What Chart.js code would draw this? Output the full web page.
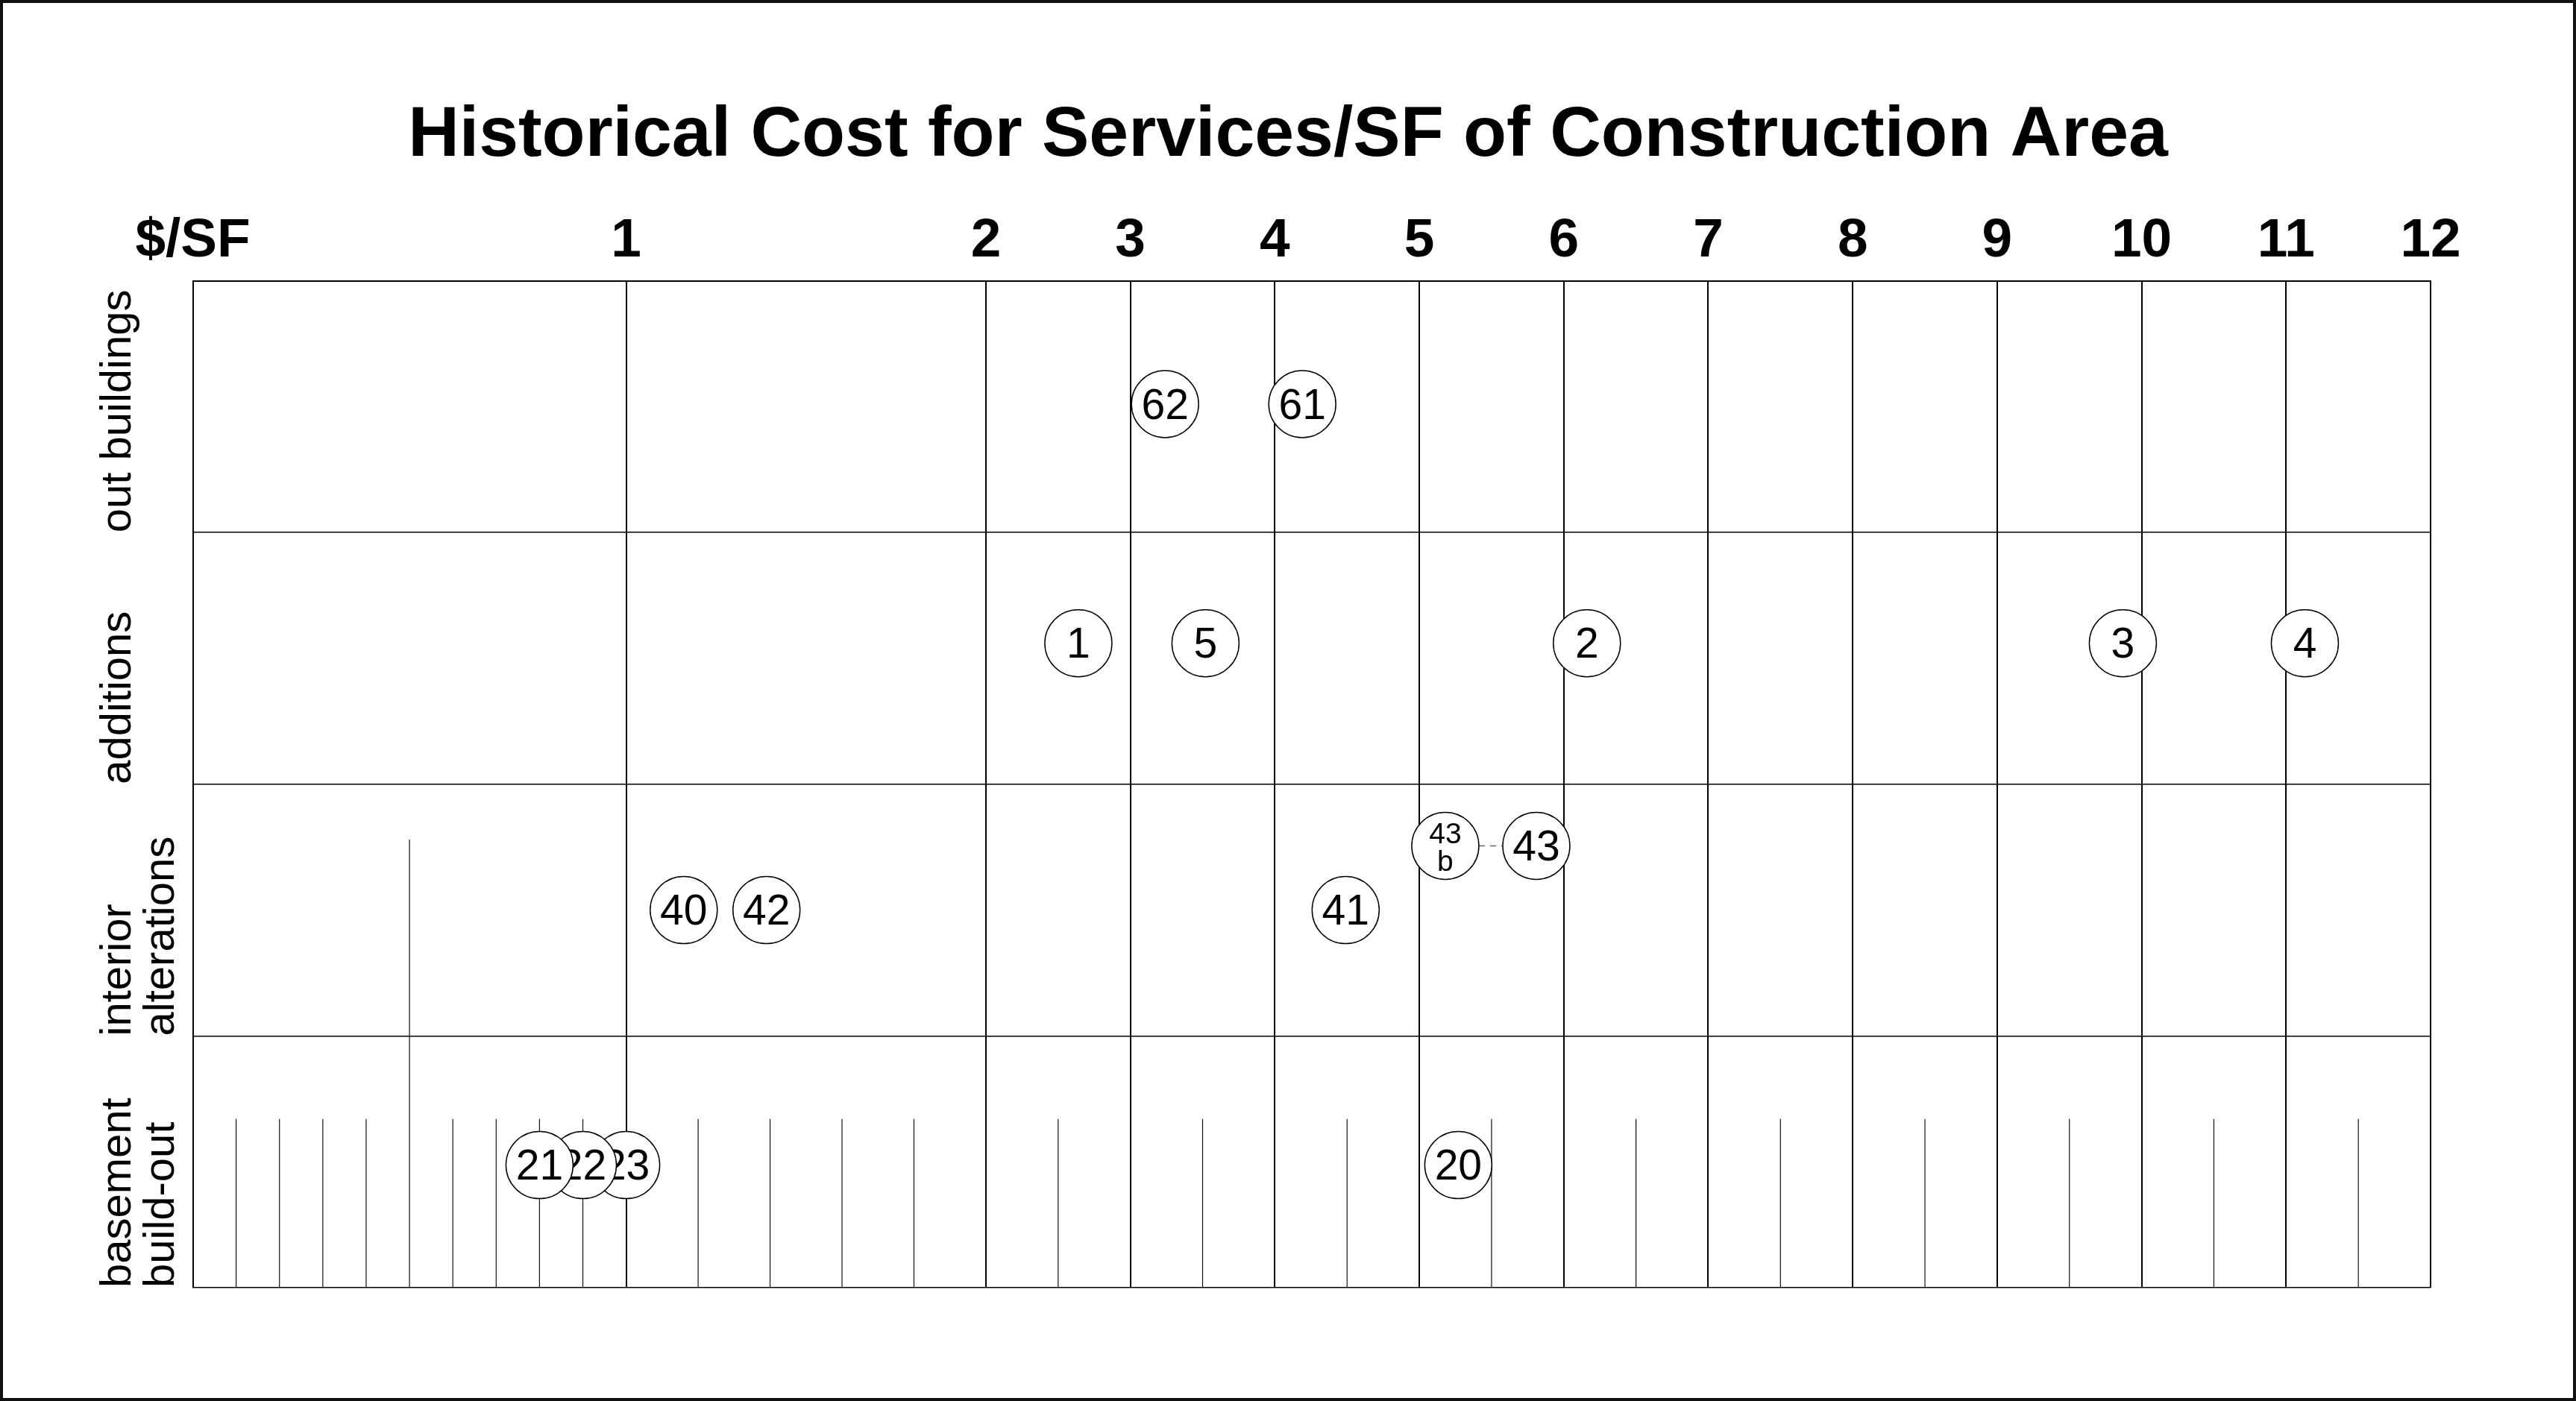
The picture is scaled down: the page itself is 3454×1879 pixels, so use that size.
<!DOCTYPE html>
<html>
<head>
<meta charset="utf-8">
<script src="https://cdn.jsdelivr.net/npm/chart.js@4.4.1/dist/chart.umd.min.js"></script>
<style>
html,body{margin:0;padding:0;background:#fff;}
#wrap{position:relative;width:3454px;height:1879px;}
#frame{position:absolute;left:0;top:0;width:3454px;height:1879px;box-sizing:border-box;border:4px solid #111;pointer-events:none;}
</style>
</head>
<body>
<div id="wrap"><canvas id="c"></canvas><div id="frame"></div></div>
<script>
// ---------- data ----------
const titleText = 'Historical Cost for Services/SF of Construction Area';
// row categories, bottom to top (rotated labels; each row label reads upward from the row's lower edge)
const categories = [['basement', 'build-out'], ['interior', 'alterations'], ['additions'], ['out buildings']];
const rowBoundaries = [0, 1, 2, 3, 4];

const xTickValues = [0, 1, 2, 3, 4, 5, 6, 7, 8, 9, 10, 11, 12];
const xTickLabels = ['$/SF', '1', '2', '3', '4', '5', '6', '7', '8', '9', '10', '11', '12'];
const minorTickValues = [0.1, 0.2, 0.3, 0.4, 0.6, 0.7, 0.8, 0.9, 1.2, 1.4, 1.6, 1.8,
  2.5, 3.5, 4.5, 5.5, 6.5, 7.5, 8.5, 9.5, 10.5, 11.5];
const minorTickHeight = 0.67;
const midLineValue = 0.5;
const midLineHeight = 1.78;

// projects: number, cost ($/SF), vertical position within the row band
const outBuildingsIds = ['62', '61'];
const outBuildingsCost = [3.24, 4.19];
const outBuildingsPos = [3.51, 3.51];

const additionsIds = ['1', '5', '2', '3', '4'];
const additionsCost = [2.64, 3.52, 6.16, 9.87, 11.13];
const additionsPos = [2.56, 2.56, 2.56, 2.56, 2.56];

const interiorIds = ['40', '42', '41', '43\nb', '43'];
const interiorCost = [1.16, 1.39, 4.49, 5.18, 5.81];
const interiorPos = [1.50, 1.50, 1.50, 1.755, 1.755];

const basementIds = ['21', '22', '23', '20'];
const basementCost = [0.80, 0.90, 1.00, 5.27];
const basementPos = [0.487, 0.487, 0.487, 0.487];

// dashed link between related projects
const linkedIds = ['43\nb', '43'];

// ---------- piecewise cost scale ----------
class CostScale extends Chart.LinearScale {
  toUnits(v) {
    const b = [0, 1, 2, 12];
    const w = [3.0, 2.49, 1.0];
    let u = 0;
    for (let i = 0; i < w.length; i++) {
      const lo = b[i], hi = b[i + 1];
      if (v <= hi || i === w.length - 1) return u + (v - lo) * w[i];
      u += (hi - lo) * w[i];
    }
    return u;
  }
  fromUnits(u) {
    const b = [0, 1, 2, 12];
    const w = [3.0, 2.49, 1.0];
    let acc = 0;
    for (let i = 0; i < w.length; i++) {
      const span = (b[i + 1] - b[i]) * w[i];
      if (u <= acc + span || i === w.length - 1) return b[i] + (u - acc) / w[i];
      acc += span;
    }
    return b[b.length - 1];
  }
  getPixelForValue(value) {
    if (value === null || value === undefined || isNaN(value)) return NaN;
    const s = this.toUnits(this.min), e = this.toUnits(this.max);
    return this.getPixelForDecimal((this.toUnits(value) - s) / (e - s));
  }
  getValueForPixel(pixel) {
    const s = this.toUnits(this.min), e = this.toUnits(this.max);
    return this.fromUnits(s + this.getDecimalForPixel(pixel) * (e - s));
  }
}
CostScale.id = 'cost';
CostScale.defaults = {};
Chart.register(CostScale);

// ---------- datasets ----------
const groups = [
  [outBuildingsIds, outBuildingsCost, outBuildingsPos],
  [additionsIds, additionsCost, additionsPos],
  [interiorIds, interiorCost, interiorPos],
  [basementIds, basementCost, basementPos]
];
const datasets = [];
const lookup = {};
groups.forEach(([ids, cost, pos]) => {
  ids.forEach((id, i) => {
    lookup[id] = {x: cost[i], y: pos[i]};
    datasets.push({
      idLabel: id,
      data: [{x: cost[i], y: pos[i]}],
      pointRadius: 45,
      pointHoverRadius: 45,
      pointBorderWidth: 1.5,
      pointHoverBorderWidth: 1.5,
      pointBackgroundColor: '#ffffff',
      pointBorderColor: '#000000',
      pointHoverBackgroundColor: '#ffffff',
      pointHoverBorderColor: '#000000'
    });
  });
});
// dashed connector
datasets.push({
  data: linkedIds.map(id => lookup[id]),
  showLine: true,
  borderColor: '#666666',
  borderWidth: 1.3,
  borderDash: [8, 7],
  pointRadius: 0,
  pointHoverRadius: 0
});
// minor tick marks in the bottom band and the half-dollar line
const tickData = [];
minorTickValues.forEach(v => {
  tickData.push({x: v, y: 0}, {x: v, y: minorTickHeight}, {x: v, y: null});
});
tickData.push({x: midLineValue, y: 0}, {x: midLineValue, y: midLineHeight}, {x: midLineValue, y: null});
datasets.push({
  data: tickData,
  showLine: true,
  spanGaps: false,
  borderColor: '#111111',
  borderWidth: 1.2,
  pointRadius: 0,
  pointHoverRadius: 0
});

// ---------- label plugin ----------
const idLabelPlugin = {
  id: 'idLabels',
  afterDatasetDraw(chart, args) {
    const ds = chart.data.datasets[args.index];
    if (!ds.idLabel) return;
    const pt = args.meta.data[0];
    const ctx = chart.ctx;
    const lines = ds.idLabel.split('\n');
    const multi = lines.length > 1;
    const size = multi ? 39 : 57;
    const lh = multi ? 37 : 57;
    ctx.save();
    ctx.fillStyle = '#000';
    ctx.font = size + 'px "Liberation Sans", Arial, sans-serif';
    ctx.textAlign = 'center';
    ctx.textBaseline = 'middle';
    lines.forEach((l, i) => {
      ctx.fillText(l, pt.x, pt.y + (i - (lines.length - 1) / 2) * lh + 4);
    });
    ctx.restore();
  }
};

// rotated row label layout: two blank lead lines keep the text inside the axis box
function rowLabel(i) {
  if (i >= categories.length) return '';
  const c = categories[i];
  return ['', '', c[0], c[1] || ''];
}

Chart.defaults.font.family = '"Liberation Sans", Arial, sans-serif';
Chart.defaults.color = '#000';

new Chart(document.getElementById('c'), {
  type: 'scatter',
  data: {datasets},
  plugins: [idLabelPlugin],
  options: {
    responsive: true,
    maintainAspectRatio: false,
    devicePixelRatio: 1,
    animation: false,
    events: [],
    layout: {padding: {left: 129.5, right: 129.5, top: 0, bottom: 152}},
    plugins: {
      legend: {display: false},
      tooltip: {enabled: false},
      title: {
        display: true,
        text: titleText,
        color: '#000',
        font: {size: 95, weight: 'bold', lineHeight: 1.2},
        padding: {top: 126, bottom: 31}
      }
    },
    scales: {
      x: {
        type: 'cost',
        position: 'top',
        min: 0,
        max: 12,
        afterBuildTicks: s => { s.ticks = xTickValues.map(v => ({value: v})); },
        ticks: {
          autoSkip: false,
          maxRotation: 0,
          minRotation: 0,
          padding: 9,
          color: '#000',
          font: {size: 73, weight: 'bold', lineHeight: 1.2},
          callback: (v, i) => xTickLabels[i]
        },
        grid: {color: '#000', lineWidth: 2, drawTicks: false},
        border: {display: true, color: '#000', width: 2}
      },
      y: {
        type: 'linear',
        position: 'left',
        min: 0,
        max: 4,
        afterBuildTicks: s => { s.ticks = rowBoundaries.map(v => ({value: v})); },
        afterFit: s => { s.width = 129; },
        ticks: {
          autoSkip: false,
          minRotation: 90,
          maxRotation: 90,
          crossAlign: 'far',
          padding: 0,
          color: '#000',
          font: {size: 58, lineHeight: 1.0},
          callback: (v) => rowLabel(Math.round(v))
        },
        grid: {color: '#000', lineWidth: 1.5, drawTicks: false},
        border: {display: true, color: '#000', width: 2}
      },
      yMargin: {
        type: 'linear',
        position: 'right',
        min: 0,
        max: 4,
        afterFit: s => { s.width = 65.5; },
        ticks: {display: false},
        grid: {display: false, drawTicks: false},
        border: {display: false}
      }
    }
  }
});
</script>
</body>
</html>
